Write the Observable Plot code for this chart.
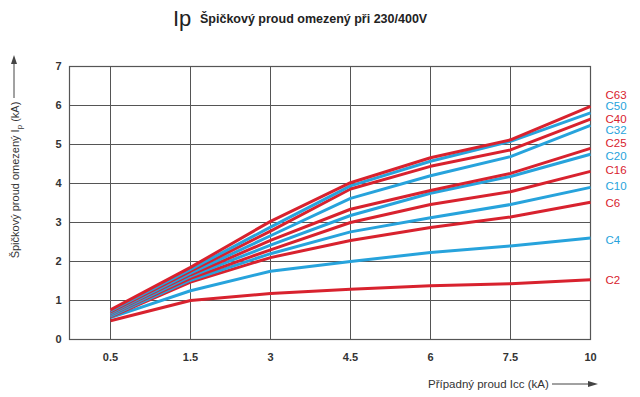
<!DOCTYPE html>
<html><head><meta charset="utf-8">
<script src="https://cdn.jsdelivr.net/npm/d3@7"></script>
<script src="https://cdn.jsdelivr.net/npm/@observablehq/plot@0.6"></script>
<style>body{margin:0;background:#fff} svg{display:block}</style>
</head><body><div id="chart"></div>
<script>
// ---- data ----
const xTicks = ["0.5", "1.5", "3", "4.5", "6", "7.5", "10"];
const yTicks = [0, 1, 2, 3, 4, 5, 6, 7];
const seriesNames = ["C63", "C50", "C40", "C32", "C25", "C20", "C16", "C10", "C6", "C4", "C2"];
const c63 = [0.76, 1.85, 3.03, 4.02, 4.66, 5.12, 5.98];
const c50 = [0.73, 1.80, 2.88, 3.94, 4.57, 5.08, 5.81];
const c40 = [0.71, 1.75, 2.78, 3.86, 4.44, 4.86, 5.65];
const c32 = [0.68, 1.70, 2.66, 3.62, 4.20, 4.69, 5.49];
const c25 = [0.67, 1.66, 2.54, 3.34, 3.82, 4.26, 4.90];
const c20 = [0.64, 1.62, 2.42, 3.18, 3.75, 4.18, 4.75];
const c16 = [0.63, 1.57, 2.30, 3.00, 3.46, 3.79, 4.31];
const c10 = [0.60, 1.52, 2.20, 2.76, 3.12, 3.46, 3.90];
const c6  = [0.58, 1.47, 2.10, 2.54, 2.87, 3.14, 3.52];
const c4  = [0.56, 1.25, 1.75, 2.00, 2.23, 2.40, 2.60];
const c2  = [0.48, 1.00, 1.18, 1.29, 1.38, 1.43, 1.53];
const seriesValues = [c63, c50, c40, c32, c25, c20, c16, c10, c6, c4, c2];
const blueSeries = ["C50", "C32", "C20", "C10", "C4"];

// ---- styles ----
const RED = "#d8222e", BLUE = "#27a3dc", GRID = "#555";
const colorOf = name => blueSeries.includes(name) ? BLUE : RED;
const labelDy = {C63: -11, C50: -7, C40: 0, C32: 5, C25: -5, C20: 2, C16: -1, C10: -1, C6: 1, C4: 2, C2: 0};

const series = seriesNames.map((name, i) => ({
  name,
  points: xTicks.map((x, j) => ({x, y: seriesValues[i][j]}))
}));

const lineMarks = series.slice().reverse().map(s =>
  Plot.line(s.points, {x: "x", y: "y", stroke: colorOf(s.name), strokeWidth: 3, strokeLinejoin: "round", strokeLinecap: "butt"})
);
const labelMarks = series.map(s =>
  Plot.text([s.points[s.points.length - 1]], {
    x: "x", y: "y", text: () => s.name, textAnchor: "start", dx: 15, dy: labelDy[s.name],
    fill: colorOf(s.name), fontSize: 11.5
  })
);

const plot = Plot.plot({
  width: 640, height: 397,
  marginTop: 66, marginBottom: 58, marginLeft: 69, marginRight: 50,
  style: {fontFamily: "'Liberation Sans', Arial, sans-serif", background: "#fff", color: "#333"},
  x: {type: "point", domain: xTicks, range: [109, 590], padding: 0},
  y: {domain: [0, 7]},
  marks: [
    Plot.gridX(xTicks, {stroke: GRID, strokeOpacity: 1}),
    Plot.gridY(yTicks, {stroke: GRID, strokeOpacity: 1}),
    Plot.frame({stroke: GRID, strokeWidth: 1.2}),
    Plot.axisX(xTicks, {tickSize: 0, tickPadding: 14, fontSize: 11, fontWeight: "bold", fill: "#333", label: null}),
    Plot.axisY(yTicks, {tickSize: 0, tickPadding: 8, fontSize: 11, fontWeight: "bold", fill: "#333", label: null}),
    ...lineMarks,
    ...labelMarks
  ]
});
document.getElementById("chart").appendChild(plot);

// ---- titles & axis labels ----
const svg = d3.select(plot);
svg.append("text").attr("x", 173).attr("y", 26).attr("text-anchor", "start")
  .attr("font-size", 22).attr("fill", "#222").text("Ip");
svg.append("text").attr("x", 200).attr("y", 23).attr("text-anchor", "start")
  .attr("font-size", 12.5).attr("font-weight", "bold").attr("fill", "#222")
  .text("Špičkový proud omezený při 230/400V");

const yl = svg.append("text")
  .attr("transform", "translate(19,180) rotate(-90)")
  .attr("text-anchor", "middle").attr("font-size", 11).attr("fill", "#333");
yl.append("tspan").text("Špičkový proud omezený I");
yl.append("tspan").attr("font-size", 8).attr("dy", 3).text("p");
yl.append("tspan").attr("dy", -3).text(" (kA)");
svg.append("line").attr("x1", 14).attr("x2", 14).attr("y1", 98).attr("y2", 62)
  .attr("stroke", "#444").attr("stroke-width", 1);
svg.append("path").attr("d", "M14,55 L11,64 L17,64 Z").attr("fill", "#444");

svg.append("text").attr("x", 428).attr("y", 388).attr("text-anchor", "start")
  .attr("font-size", 11.5).attr("fill", "#333").text("Případný proud Icc (kA)");
svg.append("line").attr("x1", 552).attr("x2", 590).attr("y1", 384).attr("y2", 384)
  .attr("stroke", "#444").attr("stroke-width", 1);
svg.append("path").attr("d", "M598,384 L588,381 L588,387 Z").attr("fill", "#444");
</script></body></html>
